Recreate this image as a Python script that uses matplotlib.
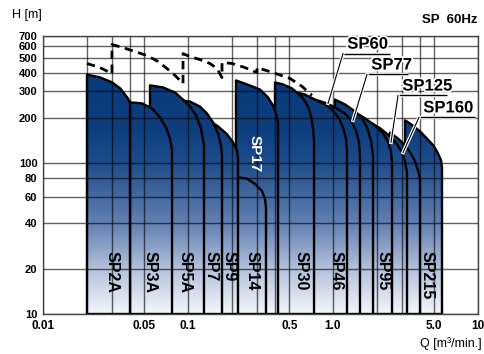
import numpy as np
import matplotlib
matplotlib.use('Agg')
import matplotlib.pyplot as plt
from matplotlib.patches import Polygon
from matplotlib.image import AxesImage
from matplotlib.colors import LinearSegmentedColormap
import matplotlib.patheffects as pe

plt.rcParams['font.family'] = ['Liberation Sans', 'DejaVu Sans']

# ---------------- data ----------------
Y_TICKS = [10, 20, 40, 60, 80, 100, 200, 300, 400, 500, 600, 700]
X_TICKS = [0.01, 0.05, 0.1, 0.5, 1.0, 5.0, 10]
X_TICK_LABELS = ['0.01', '0.05', '0.1', '0.5', '1.0', '5.0', '10']
X_GRID = [0.02, 0.03, 0.04, 0.05, 0.2, 0.3, 0.4, 0.5, 2, 3, 4, 5]
H_FLOOR = 10

SP2A_Q = [0.0201, 0.0247, 0.0299, 0.0340, 0.0380, 0.0398]
SP2A_H = [388, 372, 345, 315, 275, 254]
SP3A_Q = [0.0398, 0.0482, 0.0565, 0.0641, 0.0705, 0.0752, 0.0776]
SP3A_H = [254, 250, 231, 202, 173, 146, 122]
SP5A_Q = [0.0547, 0.0673, 0.0814, 0.0924, 0.1032, 0.1136, 0.1229, 0.1289]
SP5A_H = [329, 319, 295, 265, 238, 208, 171, 132]
SP7_Q = [0.0909, 0.1032, 0.1210, 0.1352, 0.1487, 0.1610, 0.1689, 0.1716]
SP7_H = [261, 257, 238, 214, 187, 158, 132, 113]
SP9_Q = [0.1418, 0.1610, 0.1858, 0.2043, 0.2177, 0.2212]
SP9_H = [190, 176, 156, 138, 122, 108]
SP14_Q = [0.2177, 0.2553, 0.2898, 0.3239, 0.3396, 0.3451]
SP14_H = [81, 79, 73, 65.5, 58, 51]
SP17_Q = [0.2143, 0.2553, 0.3138, 0.3562, 0.3857, 0.4045, 0.4176]
SP17_H = [355, 334, 309, 274, 242, 214, 187]
SP30_Q = [0.398, 0.452, 0.521, 0.574, 0.621, 0.673, 0.705, 0.728, 0.740]
SP30_H = [344, 334, 314, 291, 270, 238, 205, 171, 142]
SP46_Q = [0.565, 0.641, 0.752, 0.881, 1.0, 1.100, 1.172, 1.229, 1.249]
SP46_H = [295, 286, 265, 246, 224, 199, 173, 146, 122]
SP60_Q = [0.788, 0.909, 1.066, 1.210, 1.331, 1.441, 1.511, 1.535]
SP60_H = [261, 250, 231, 214, 193, 165, 138, 113]
SP77_Q = [1.032, 1.210, 1.418, 1.585, 1.716, 1.829, 1.888]
SP77_H = [265, 246, 221, 199, 173, 142, 113]
SP95_Q = [1.210, 1.418, 1.662, 1.949, 2.212, 2.395, 2.512, 2.553]
SP95_H = [231, 218, 199, 178, 158, 139, 120, 102]
SP125_Q = [1.800, 2.110, 2.473, 2.764, 2.991, 3.138, 3.239]
SP125_H = [187, 171, 151, 134, 118, 103, 87]
SP160_Q = [2.473, 2.809, 3.138, 3.451, 3.678, 3.857, 3.981]
SP160_H = [160, 146, 132, 116, 103, 90, 78]
SP215_Q = [3.138, 3.562, 3.981, 4.449, 4.895, 5.214, 5.556, 5.646]
SP215_H = [193, 178, 163, 146, 132, 120, 105, 94]

CURVES = [('SP2A', SP2A_Q, SP2A_H), ('SP3A', SP3A_Q, SP3A_H),
          ('SP5A', SP5A_Q, SP5A_H), ('SP7', SP7_Q, SP7_H),
          ('SP9', SP9_Q, SP9_H), ('SP14', SP14_Q, SP14_H),
          ('SP17', SP17_Q, SP17_H), ('SP30', SP30_Q, SP30_H),
          ('SP46', SP46_Q, SP46_H), ('SP60', SP60_Q, SP60_H),
          ('SP77', SP77_Q, SP77_H), ('SP95', SP95_Q, SP95_H),
          ('SP125', SP125_Q, SP125_H), ('SP160', SP160_Q, SP160_H),
          ('SP215', SP215_Q, SP215_H)]

# dashed upper envelope (Q, H)
DASH_Q = [0.0201, 0.0247, 0.0299, 0.0299, 0.0356, 0.0431, 0.0521, 0.0621, 0.0716, 0.0814, 0.0924,
          0.0924, 0.1032, 0.1210, 0.1418, 0.1585, 0.1716,
          0.1716, 0.2011, 0.2472, 0.2991, 0.2991, 0.3857, 0.5049, 0.6112, 0.7161]
DASH_H = [460, 432, 394, 614, 586, 552, 519, 474, 426, 383, 339,
          535, 511, 488, 460, 426, 371,
          467, 460, 432, 400, 432, 400, 366, 324, 282]

# bottom labels (name, Q at centre)
BOTTOM_LABELS = ['SP2A', 'SP3A', 'SP5A', 'SP7', 'SP9', 'SP14', 'SP30', 'SP46', 'SP95', 'SP215']
BOTTOM_LABEL_Q = [0.0299, 0.0547, 0.0951, 0.1436, 0.1924, 0.277, 0.603, 1.05, 2.23, 4.48]

# ---------------- figure ----------------
fig = plt.figure(figsize=(4.84, 3.54), dpi=100)
ax = fig.add_axes([43 / 484, 1 - 314 / 354, (478 - 43) / 484, (314 - 36) / 354])
ax.set_xscale('log')
ax.set_yscale('log')
ax.set_xlim(0.01, 10)
ax.set_ylim(10, 700)
ax.set_autoscale_on(False)

grad_cmap = LinearSegmentedColormap.from_list(
    'pump', [(0.0, '#f4f6fa'), (0.16, '#b4c2dc'), (0.32, '#6581b3'),
             (0.54, '#1f4d8b'), (0.66, '#0d3e7e'), (1.0, '#073777')])
grad = np.linspace(0, 1, 512).reshape(-1, 1)

for i, (name, q, h) in enumerate(reversed(CURVES)):
    z = 1 + i * 0.05
    verts = [(q[0], H_FLOOR)] + list(zip(q, h)) + [(q[-1], H_FLOOR)]
    poly = Polygon(verts, closed=True, facecolor='none', edgecolor='black',
                   lw=1.7, zorder=z + 0.02, joinstyle='round')
    ax.add_patch(poly)
    im = AxesImage(ax, cmap=grad_cmap, origin='lower', extent=(0, 1, 0, 1),
                   transform=ax.transAxes, interpolation='bilinear', zorder=z)
    im.set_data(grad)
    ax.add_image(im)
    im.set_clip_path(poly)

# grid
ax.set_yticks(Y_TICKS)
ax.set_yticklabels([str(v) for v in Y_TICKS])
ax.yaxis.set_minor_locator(matplotlib.ticker.NullLocator())
ax.set_xticks(X_TICKS)
ax.set_xticklabels(X_TICK_LABELS)
ax.set_xticks(X_GRID, minor=True)
ax.xaxis.set_minor_formatter(matplotlib.ticker.NullFormatter())
ax.set_axisbelow(False)
ax.grid(True, which='major', axis='both', color='black', alpha=0.62, lw=1.0)
ax.grid(True, which='minor', axis='x', color='black', alpha=0.62, lw=1.0)
ax.tick_params(which='both', length=0)
ax.tick_params(axis='y', pad=4, labelsize=8)
ax.tick_params(axis='x', pad=4, labelsize=8.5)
for lab in ax.get_xticklabels() + ax.get_yticklabels():
    lab.set_fontweight('bold')
for sp in ax.spines.values():
    sp.set_color('#444444')
    sp.set_linewidth(1.0)
    sp.set_zorder(3)

# dashed envelope
ax.plot(DASH_Q, DASH_H, color='black', lw=2.0, ls=(0, (3, 2)), zorder=3)

# bottom labels
for name, qx in zip(BOTTOM_LABELS, BOTTOM_LABEL_Q):
    ax.text(qx, 26, name, rotation=270, ha='center', va='top', fontsize=11.5,
            fontweight='bold', color='black', zorder=5)
ax.text(0.29, 155, 'SP17', rotation=270, ha='center', va='top', fontsize=11,
        fontweight='bold', color='white', zorder=5)

# leader labels
halo = [pe.withStroke(linewidth=2.5, foreground='white')]
leaders = [('SP60', 1.172, 2.473, 535, 0.924, 250),
           ('SP77', 1.716, 3.29, 389, 1.374, 193),
           ('SP125', 2.809, 6.11, 282, 2.512, 138),
           ('SP160', 3.92, 9.53, 202, 3.04, 118)]
for name, x0, x1, yl, xt, yt in leaders:
    ax.plot([x0, x1], [yl, yl], color='black', lw=1.0, zorder=6,
            path_effects=halo, solid_capstyle='butt')
    ax.plot([x0, xt], [yl, yt], color='black', lw=0.8, zorder=6,
            path_effects=halo)
    ax.text(x0 * 1.07, yl * 1.03, name, ha='left', va='bottom', fontsize=12,
            fontweight='bold', zorder=7, path_effects=halo)

fig.text(12 / 484, 1 - 15 / 354, 'H [m]', ha='left', va='center', fontsize=9)
fig.text(482 / 484, 1 - 344 / 354, 'Q [m³/min.]', ha='right', va='center', fontsize=9)
fig.text(478 / 484, 1 - 20 / 354, 'SP  60Hz', ha='right', va='center', fontsize=9.5,
         fontweight='bold')

fig.savefig('out.png', dpi=100)
